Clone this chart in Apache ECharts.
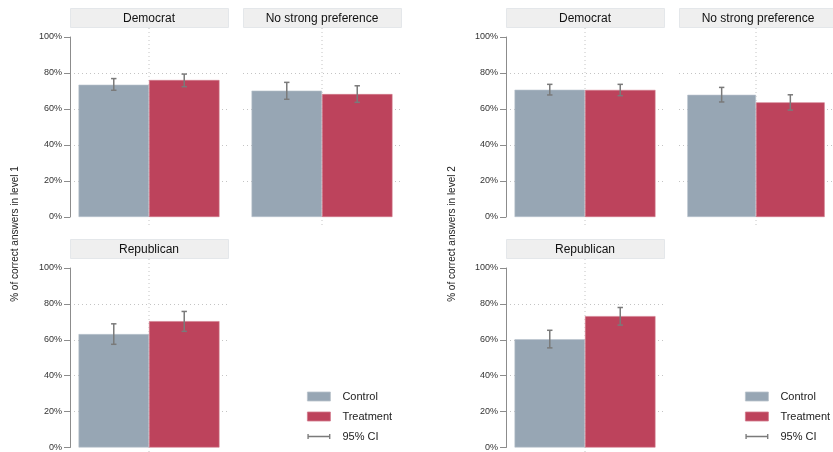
<!DOCTYPE html>
<html>
<head>
<meta charset="utf-8">
<script src="https://cdn.jsdelivr.net/npm/echarts@6/dist/echarts.min.js"></script>
<style>html,body{margin:0;padding:0;background:#fff}#c{width:833px;height:452px}</style>
</head>
<body>
<div id="c"></div>
<script>
// ---- data ----
const panels = ['Democrat', 'No strong preference', 'Republican'];
const groups = ['Control', 'Treatment'];
const yTicks = [0, 20, 40, 60, 80, 100];
// level 1
const level1Control   = [73.5, 70.2, 63.2];
const level1ControlLo = [70.4, 65.4, 57.5];
const level1ControlHi = [76.9, 74.8, 68.9];
const level1Treat     = [76.1, 68.3, 70.4];
const level1TreatLo   = [72.4, 63.7, 64.7];
const level1TreatHi   = [79.4, 72.9, 75.8];
// level 2
const level2Control   = [70.7, 67.9, 60.3];
const level2ControlLo = [67.8, 63.9, 55.5];
const level2ControlHi = [73.7, 72.0, 65.3];
const level2Treat     = [70.6, 63.7, 73.2];
const level2TreatLo   = [67.4, 59.4, 68.2];
const level2TreatHi   = [73.7, 67.9, 78.0];
const yTitles = ['% of correct answers in level 1', '% of correct answers in level 2'];
const ciLabel = '95% CI';

// ---- style ----
const FONT = "'Liberation Sans', Arial, sans-serif";
const C_CTRL = '#97a6b4', C_TREAT = '#bd435c', C_ERR = '#7a7a7a', C_GRID = '#c4c4c4';
const GAP = 0.108;

const levels = [
  {c: level1Control, cl: level1ControlLo, ch: level1ControlHi, t: level1Treat, tl: level1TreatLo, th: level1TreatHi, x0: 70, titleX: 15},
  {c: level2Control, cl: level2ControlLo, ch: level2ControlHi, t: level2Treat, tl: level2TreatLo, th: level2TreatHi, x0: 506, titleX: 452}
];
const panelW = 158, panelDx = 173;
const rowTop = [37, 268], plotH = 180, stripH = 19, stripGap = 10;
const panelPos = [[0,0],[1,0],[0,1]]; // [col,row]

const grid = [], xAxis = [], yAxis = [], series = [], graphic = [];
let gi = 0;
levels.forEach((L, li) => {
  panels.forEach((p, pi) => {
    const [col, row] = panelPos[pi];
    const left = L.x0 + col * panelDx;
    const top = rowTop[row];
    grid.push({left: left, top: top, width: panelW, height: plotH, containLabel: false});
    xAxis.push({
      gridIndex: gi, type: 'category', data: [p],
      axisLine: {show: false}, axisTick: {show: false}, axisLabel: {show: false},
      splitLine: {show: false}
    });
    yAxis.push({
      gridIndex: gi, type: 'value', min: yTicks[0], max: yTicks[yTicks.length - 1], interval: yTicks[1] - yTicks[0],
      axisLine: {show: col === 0, lineStyle: {color: '#8c8c8c', width: 1}},
      axisTick: {show: col === 0, length: 6, lineStyle: {color: '#8c8c8c'}},
      axisLabel: {show: col === 0, formatter: '{value}%', color: '#333', fontSize: 9, fontFamily: FONT, margin: 8},
      splitLine: {show: true, showMinLine: false, showMaxLine: false, lineStyle: {color: C_GRID, type: [1, 3], width: 1}}
    });
    series.push({
      name: groups[0], type: 'bar', xAxisIndex: gi, yAxisIndex: gi,
      data: [L.c[pi]], barGap: '0%', barCategoryGap: (GAP * 100) + '%',
      itemStyle: {color: C_CTRL, borderColor: '#b9c3cc', borderWidth: 0.6},
      z: 2
    });
    series.push({
      name: groups[1], type: 'bar', xAxisIndex: gi, yAxisIndex: gi,
      data: [L.t[pi]], barGap: '0%', barCategoryGap: (GAP * 100) + '%',
      itemStyle: {color: C_TREAT, borderColor: '#d27a8b', borderWidth: 0.6},
      z: 2
    });
    // vertical divider (category centre) drawn behind bars
    series.push({
      type: 'custom', xAxisIndex: gi, yAxisIndex: gi, z: 1, silent: true,
      data: [[0]],
      renderItem: function (params, api) {
        const t = api.coord([api.value(0), yTicks[yTicks.length - 1]]);
        const b = api.coord([api.value(0), yTicks[0]]);
        return {type: 'line', shape: {x1: t[0], y1: t[1] - 9, x2: b[0], y2: b[1] + 10},
          style: {stroke: C_GRID, lineWidth: 1, lineDash: [1, 3]}};
      }
    });
    series.push({
      name: ciLabel, type: 'custom', xAxisIndex: gi, yAxisIndex: gi, z: 5,
      data: [[0, L.cl[pi], L.ch[pi], 0], [0, L.tl[pi], L.th[pi], 1]],
      itemStyle: {color: C_ERR},
      renderItem: function (params, api) {
        const side = api.value(3);
        const lo = api.coord([api.value(0), api.value(1)]);
        const hi = api.coord([api.value(0), api.value(2)]);
        const band = api.size([1, 0])[0];
        const bw = band * (1 - GAP) / 2;
        const x = lo[0] + (side === 0 ? -bw / 2 : bw / 2);
        const cap = 2.7;
        const st = {stroke: C_ERR, lineWidth: 1.5};
        return {type: 'group', children: [
          {type: 'line', shape: {x1: x, y1: lo[1], x2: x, y2: hi[1]}, style: st},
          {type: 'line', shape: {x1: x - cap, y1: lo[1], x2: x + cap, y2: lo[1]}, style: st},
          {type: 'line', shape: {x1: x - cap, y1: hi[1], x2: x + cap, y2: hi[1]}, style: st}
        ]};
      }
    });
    // strip header
    graphic.push({
      type: 'rect', left: left, top: top - stripH - stripGap, silent: true, z: 0,
      shape: {width: panelW, height: stripH},
      style: {fill: '#efefef', stroke: '#e4e7ea', lineWidth: 1}
    });
    graphic.push({
      type: 'text', silent: true,
      x: left + panelW / 2, y: top - stripGap - stripH / 2 + 1,
      style: {text: p, fill: '#111', font: '12px ' + FONT, align: 'center', verticalAlign: 'middle'}
    });
    gi++;
  });
  graphic.push({
    type: 'text', silent: true, x: L.titleX, y: 234, rotation: Math.PI / 2,
    style: {text: yTitles[li], fill: '#222', font: '10px ' + FONT, align: 'center', verticalAlign: 'middle'}
  });
});

const ciIcon = 'path://M0,3.8h24v1.5h-24z M0,2h1.4v5h-1.4z M22.6,2h1.4v5h-1.4z';
function legendAt(left) {
  return {
    left: left, top: 386, orient: 'vertical', itemWidth: 23, itemHeight: 9, itemGap: 9,
    selectedMode: false,
    textStyle: {fontSize: 11, fontFamily: FONT, color: '#222', padding: [0, 0, 0, 7]},
    data: [
      {name: groups[0], icon: 'rect', itemStyle: {color: C_CTRL, borderColor: '#b9c3cc', borderWidth: 0.8}},
      {name: groups[1], icon: 'rect', itemStyle: {color: C_TREAT, borderColor: '#d27a8b', borderWidth: 0.8}},
      {name: ciLabel, icon: ciIcon, itemStyle: {color: C_ERR}}
    ]
  };
}

const chart = echarts.init(document.getElementById('c'), null, {renderer: 'canvas'});
chart.setOption({
  animation: false,
  backgroundColor: '#fff',
  textStyle: {fontFamily: FONT},
  grid: grid, xAxis: xAxis, yAxis: yAxis, series: series,
  legend: [legendAt(302), legendAt(740)],
  graphic: graphic
});
</script>
</body>
</html>
